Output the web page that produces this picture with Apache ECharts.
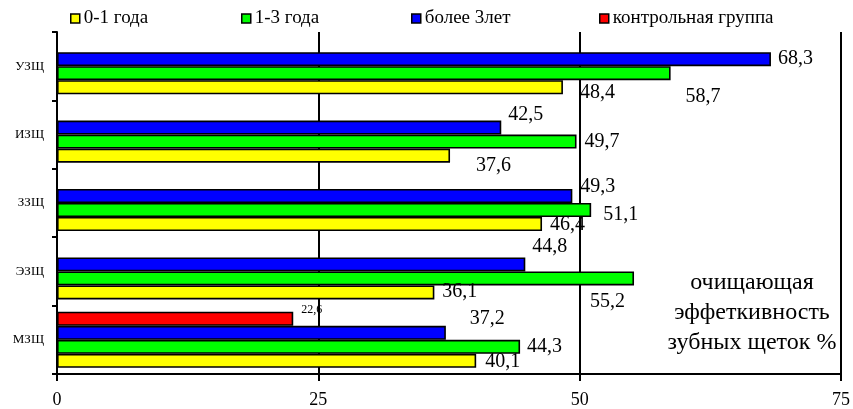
<!DOCTYPE html>
<html>
<head>
<meta charset="utf-8">
<script src="https://cdn.jsdelivr.net/npm/echarts@6/dist/echarts.min.js"></script>
<style>html,body{margin:0;padding:0;background:#fff}#c{width:853px;height:409px}</style>
</head>
<body>
<div id="c"></div>
<script>
// categories listed top to bottom as in the picture
var categories = ['УЗЩ', 'ИЗЩ', 'ЗЗЩ', 'ЭЗЩ', 'МЗЩ'];
var seriesNames = ['0-1 года', '1-3 года', 'более 3лет', 'контрольная группа'];
var years01 = [48.4, 37.6, 46.4, 36.1, 40.1];
var years13 = [58.7, 49.7, 51.1, 55.2, 44.3];
var over3 = [68.3, 42.5, 49.3, 44.8, 37.2];
var control = [null, null, null, null, 22.6];
var xTicks = [0, 25, 50, 75];

// label nudges (dx, dy) relative to default right-of-bar placement, top to bottom
var offs01 = [[12, 6], [21, 10], [3, 1], [3, -1], [4, 1]];
var offs13 = [[10, 24], [3, 0], [7, 5], [-49, 23], [2, 0]];
var offs3 = [[2, 0], [2, -13], [3, -9], [2, -18], [19, -14]];
var offsC = [[0, 0], [0, 0], [0, 0], [0, 0], [3, -9]];

var serif = '"Liberation Serif", "Times New Roman", serif';
var colors = ['#FFFF00', '#00FF00', '#0000FF', '#FF0000'];

function build(vals, offs) {
  var out = [];
  for (var i = vals.length - 1; i >= 0; i--) {
    out.push({ value: vals[i], label: { offset: offs[i] } });
  }
  return out;
}
var catsBottomUp = categories.slice().reverse();
var allVals = [years01, years13, over3, control];
var allOffs = [offs01, offs13, offs3, offsC];

var series = [];
for (var k = allVals.length - 1; k >= 0; k--) {
  series.push({
    name: seriesNames[k],
    type: 'bar',
    data: build(allVals[k], allOffs[k]),
    barGap: '0%',
    barCategoryGap: '18%',
    itemStyle: { color: colors[k], borderColor: '#000', borderWidth: 1.6 },
    label: {
      show: true,
      position: 'right',
      distance: 5,
      color: '#000',
      fontFamily: serif,
      fontSize: k === 3 ? 12 : 20,
      formatter: function (p) { return p.value == null ? '' : String(p.value).replace('.', ','); }
    },
    emphasis: { disabled: true },
    animation: false
  });
}

var legendLeft = [70, 241, 411, 599];
var legends = seriesNames.map(function (n, k) {
  return {
    top: 9,
    left: legendLeft[k],
    itemWidth: 9,
    itemHeight: 9,
    itemGap: 0,
    icon: 'rect',
    padding: 0,
    textStyle: { fontFamily: serif, fontSize: 19, color: '#000', padding: [0, 0, 0, -1] },
    data: [{ name: n, itemStyle: { color: colors[k], borderColor: '#000', borderWidth: 1.5 } }]
  };
});

var chart = echarts.init(document.getElementById('c'));
chart.setOption({
  animation: false,
  legend: legends,
  grid: { left: 57, right: 11, top: 32, bottom: 35, containLabel: false },
  xAxis: {
    type: 'value',
    min: xTicks[0],
    max: xTicks[xTicks.length - 1],
    interval: 25,
    axisLine: { show: true, lineStyle: { color: '#000', width: 2 } },
    axisTick: { show: true, length: 7, lineStyle: { color: '#000', width: 2 } },
    axisLabel: { margin: 17, fontFamily: serif, fontSize: 18, color: '#000' },
    splitLine: { show: true, lineStyle: { color: '#000', width: 2 } }
  },
  yAxis: {
    type: 'category',
    data: catsBottomUp,
    axisLine: { show: true, lineStyle: { color: '#000', width: 2 } },
    axisTick: { show: true, length: 5, lineStyle: { color: '#000', width: 2 } },
    axisLabel: { margin: 13, fontFamily: serif, fontSize: 13, color: '#000' }
  },
  graphic: [{
    type: 'text',
    x: 752,
    y: 268,
    style: {
      text: 'очищающая\nэффеткивность\nзубных щеток %',
      align: 'center',
      verticalAlign: 'top',
      font: '24px ' + serif,
      lineHeight: 30,
      fill: '#000'
    }
  }],
  series: series
});
</script>
</body>
</html>
